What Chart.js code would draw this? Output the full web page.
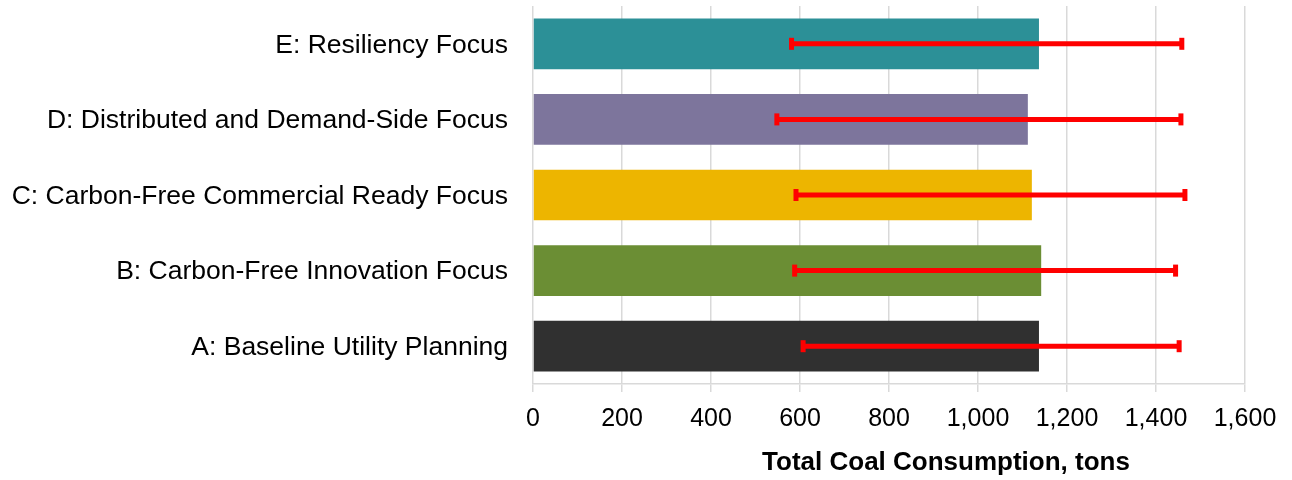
<!DOCTYPE html>
<html>
<head>
<meta charset="utf-8">
<script src="https://cdn.jsdelivr.net/npm/chart.js@4"></script>
<style>
  html, body { margin: 0; padding: 0; background: #ffffff; }
  #wrap { width: 1292px; height: 480px; }
</style>
</head>
<body>
<div id="wrap"><canvas id="chart" width="1292" height="480"></canvas></div>
<script>
// Portfolio scenarios, listed top to bottom
const scenarios = [
  'E: Resiliency Focus',
  'D: Distributed and Demand-Side Focus',
  'C: Carbon-Free Commercial Ready Focus',
  'B: Carbon-Free Innovation Focus',
  'A: Baseline Utility Planning'
];
// Expected total coal consumption (tons)
const coalTons = [1137, 1112, 1121, 1142, 1137];
// Range of outcomes across sensitivities (tons)
const rangeLow  = [581, 548, 591, 588, 607];
const rangeHigh = [1458, 1456, 1465, 1444, 1452];
const barColors = ['#2c9097', '#7d759c', '#edb500', '#6b8e34', '#303030'];
const xTicks = [0, 200, 400, 600, 800, 1000, 1200, 1400, 1600];
const axisTitle = 'Total Coal Consumption, tons';

const FONT = '"Liberation Sans", Arial, Helvetica, sans-serif';

// Red range whiskers with end caps, positioned through the chart scales
const rangeBars = {
  id: 'rangeBars',
  afterDatasetsDraw(chart) {
    const ctx = chart.ctx;
    const xs = chart.scales.x;
    const meta = chart.getDatasetMeta(0);
    ctx.save();
    ctx.strokeStyle = '#ff0000';
    ctx.fillStyle = '#ff0000';
    meta.data.forEach((bar, i) => {
      const y = bar.y;
      const x0 = xs.getPixelForValue(rangeLow[i]);
      const x1 = xs.getPixelForValue(rangeHigh[i]);
      ctx.lineWidth = 5;
      ctx.beginPath();
      ctx.moveTo(x0, y);
      ctx.lineTo(x1, y);
      ctx.stroke();
      ctx.fillRect(x0 - 2.5, y - 6, 5, 12);
      ctx.fillRect(x1 - 2.5, y - 6, 5, 12);
    });
    ctx.restore();
  }
};

// Axis title beneath the value axis
const bottomTitle = {
  id: 'bottomTitle',
  afterDraw(chart) {
    const ctx = chart.ctx;
    const area = chart.chartArea;
    ctx.save();
    ctx.font = 'bold 26px ' + FONT;
    ctx.fillStyle = '#000000';
    ctx.textAlign = 'center';
    ctx.textBaseline = 'alphabetic';
    ctx.fillText(axisTitle, (area.left + area.right) / 2 + 57, 470);
    ctx.restore();
  }
};

new Chart(document.getElementById('chart'), {
  type: 'bar',
  data: {
    labels: scenarios,
    datasets: [{
      data: coalTons,
      backgroundColor: barColors,
      borderWidth: 0,
      barPercentage: 0.67,
      categoryPercentage: 1.0
    }]
  },
  options: {
    indexAxis: 'y',
    responsive: false,
    animation: false,
    layout: { padding: { top: 6, right: 47, bottom: 0, left: 0 } },
    plugins: {
      legend: { display: false },
      tooltip: { enabled: false }
    },
    scales: {
      x: {
        min: 0,
        max: 1600,
        afterBuildTicks(scale) {
          scale.ticks = xTicks.map(v => ({ value: v }));
        },
        afterFit(scale) { scale.height = 96; },
        grid: {
          color: '#d9d9d9',
          lineWidth: 1.5,
          drawTicks: true,
          tickLength: 8
        },
        border: { color: '#d9d9d9', width: 1.5 },
        ticks: {
          color: '#000000',
          font: { family: FONT, size: 25 },
          padding: 12,
          maxRotation: 0,
          callback: (v) => Number(v).toLocaleString('en-US')
        }
      },
      y: {
        afterFit(scale) {
          scale.width = 533;
          scale.paddingTop = 0;
          scale.paddingBottom = 0;
        },
        grid: { display: false, drawTicks: false },
        border: { display: false },
        ticks: {
          color: '#000000',
          font: { family: FONT, size: 26.5 },
          padding: 25,
          labelOffset: 1.5,
          crossAlign: 'near'
        }
      }
    }
  },
  plugins: [rangeBars, bottomTitle]
});
</script>
</body>
</html>
